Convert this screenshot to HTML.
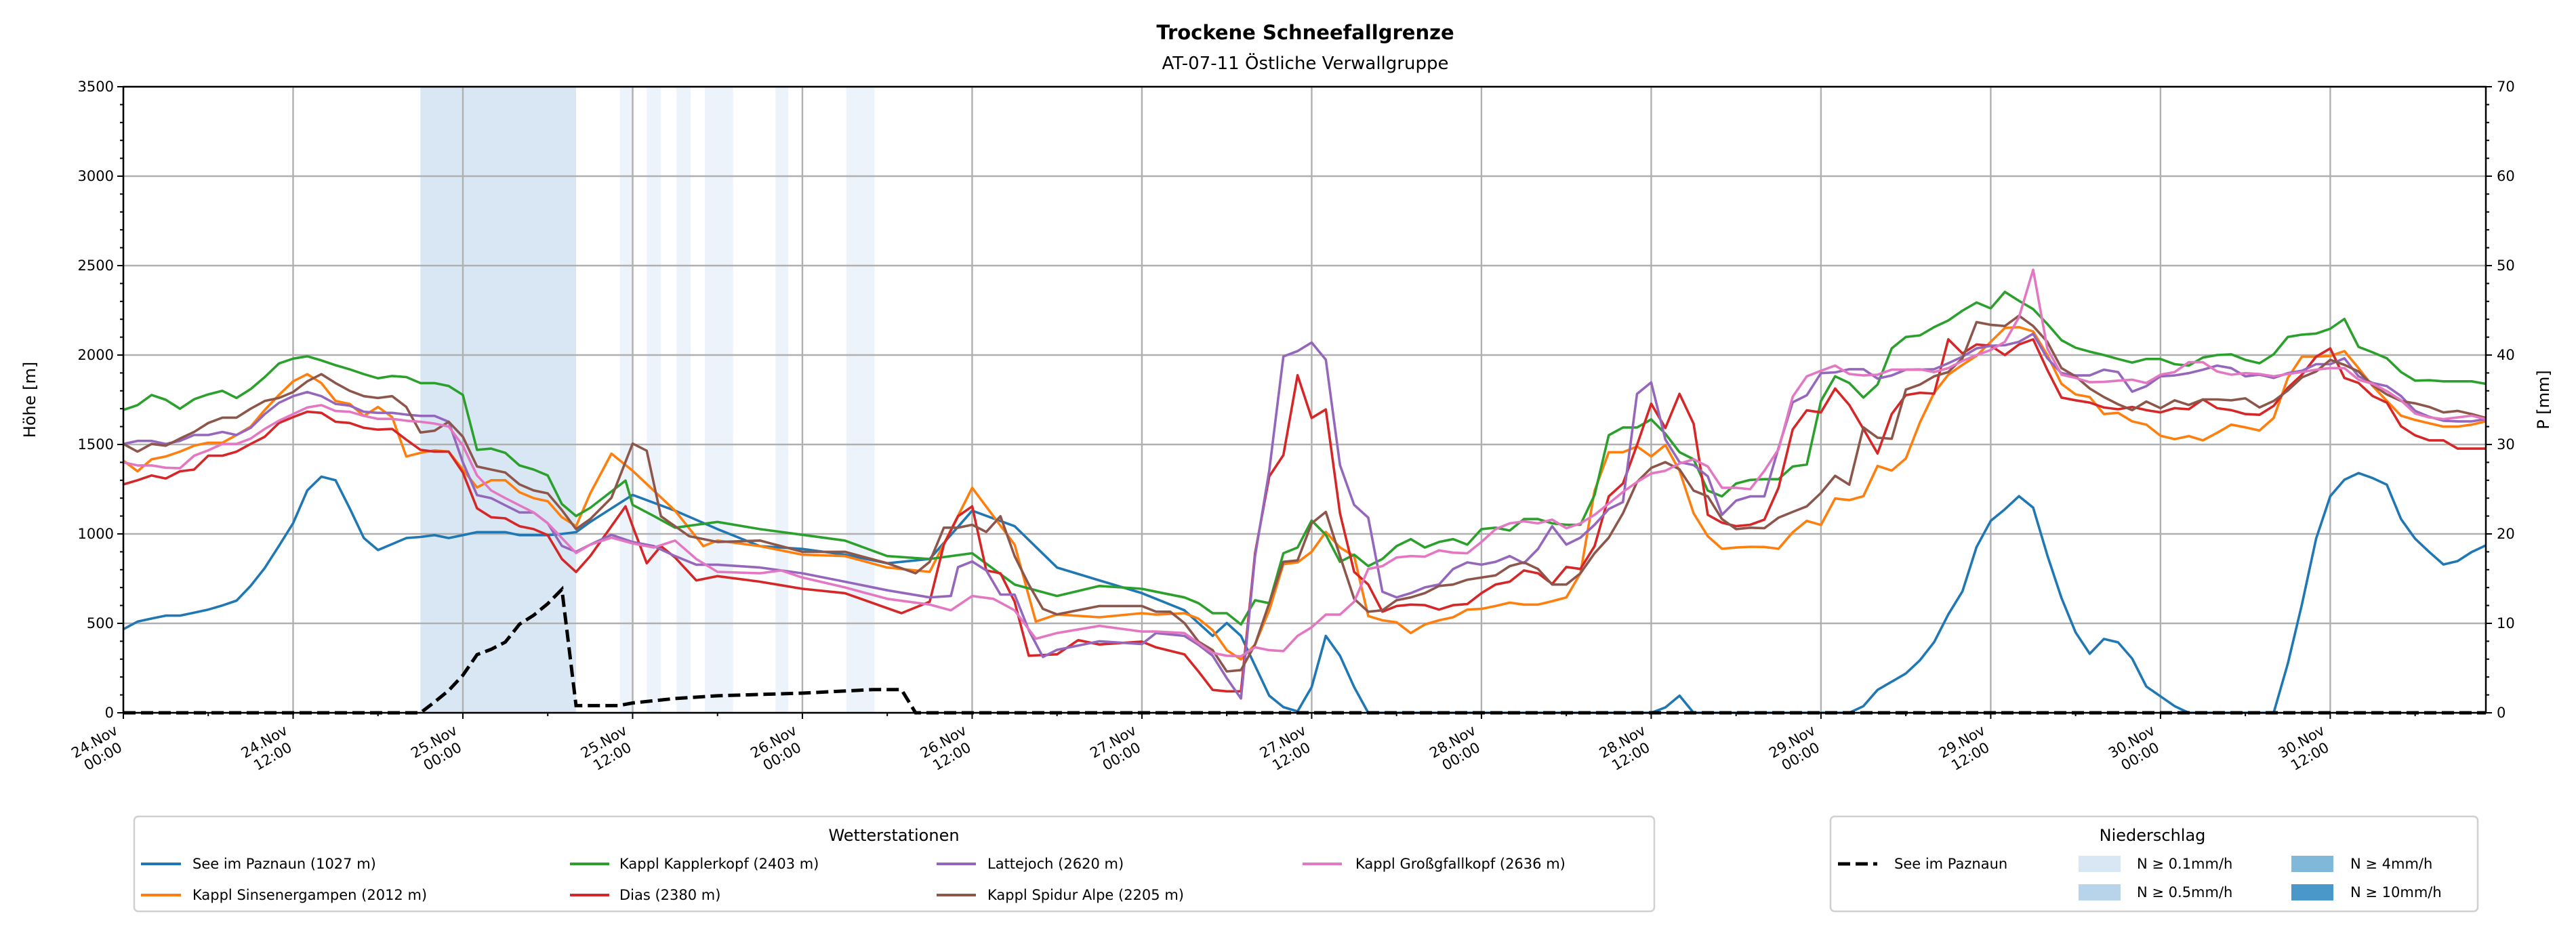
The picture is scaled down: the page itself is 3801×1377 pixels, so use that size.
<!DOCTYPE html>
<html><head><meta charset="utf-8">
<style>
html,body{margin:0;padding:0;background:#fff;}
svg{display:block;font-family:"DejaVu Sans","Liberation Sans",sans-serif;}
</style></head>
<body>
<svg id="chart" width="3801" height="1377" viewBox="0 0 3801 1377" xmlns="http://www.w3.org/2000/svg">
<rect x="0" y="0" width="3801" height="1377" fill="#fff"/>
<text x="1926" y="58" font-size="29" font-weight="bold" text-anchor="middle">Trockene Schneefallgrenze</text>
<text x="1926" y="102" font-size="26" text-anchor="middle">AT-07-11 Östliche Verwallgruppe</text>
<g id="bands"></g>
<g id="grid"></g>
<g id="series"></g>
<g id="axes"></g>
<text x="0" y="0" font-size="24" text-anchor="middle" transform="translate(52,590) rotate(-90)">Höhe [m]</text>
<text x="0" y="0" font-size="24" text-anchor="middle" transform="translate(3761,590) rotate(-90)">P [mm]</text>

<g>
<rect x="198" y="1205" width="2243" height="140" rx="6" fill="#fff" stroke="#d0d0d0" stroke-width="2.5"/>
<text x="1319" y="1241" font-size="24" text-anchor="middle">Wetterstationen</text>
<g font-size="21">
<g><line x1="208" y1="1275" x2="267" y2="1275" stroke="#1f77b4" stroke-width="4"/><text x="284" y="1282">See im Paznaun (1027 m)</text></g>
<g><line x1="208" y1="1321" x2="267" y2="1321" stroke="#ff7f0e" stroke-width="4"/><text x="284" y="1328">Kappl Sinsenergampen (2012 m)</text></g>
<g><line x1="841" y1="1275" x2="899" y2="1275" stroke="#2ca02c" stroke-width="4"/><text x="914" y="1282">Kappl Kapplerkopf (2403 m)</text></g>
<g><line x1="841" y1="1321" x2="899" y2="1321" stroke="#d62728" stroke-width="4"/><text x="914" y="1328">Dias (2380 m)</text></g>
<g><line x1="1382" y1="1275" x2="1440" y2="1275" stroke="#9467bd" stroke-width="4"/><text x="1457" y="1282">Lattejoch (2620 m)</text></g>
<g><line x1="1382" y1="1321" x2="1440" y2="1321" stroke="#8c564b" stroke-width="4"/><text x="1457" y="1328">Kappl Spidur Alpe (2205 m)</text></g>
<g><line x1="1922" y1="1275" x2="1980" y2="1275" stroke="#e377c2" stroke-width="4"/><text x="2000" y="1282">Kappl Großgfallkopf (2636 m)</text></g>
</g></g>

<g>
<rect x="2701" y="1205" width="955" height="140" rx="6" fill="#fff" stroke="#d0d0d0" stroke-width="2.5"/>
<text x="3176" y="1241" font-size="24" text-anchor="middle">Niederschlag</text>
<g font-size="21">
<g><line x1="2712" y1="1275" x2="2770" y2="1275" stroke="#000" stroke-width="5" stroke-dasharray="18,8"/><text x="2795" y="1282">See im Paznaun</text></g>
<g><rect x="3067" y="1263" width="62" height="24" fill="#d9e7f4"/><text x="3153" y="1282">N ≥ 0.1mm/h</text></g>
<g><rect x="3067" y="1305" width="62" height="24" fill="#b8d4ea"/><text x="3153" y="1324">N ≥ 0.5mm/h</text></g>
<g><rect x="3381" y="1263" width="62" height="24" fill="#80b8da"/><text x="3468" y="1282">N ≥ 4mm/h</text></g>
<g><rect x="3381" y="1305" width="62" height="24" fill="#4a98c9"/><text x="3468" y="1324">N ≥ 10mm/h</text></g>
</g></g>
</svg>
<script>
const early=[0,1,2,3,4,5,6,7,8,9,10,11,12,13,14,15,16,17,18,19,20,21,22,23,24,25,26,27,28,29,30,31,32];
const seeHours=early.concat([33,36,39,42,45,48,51,54,57,60,63,66,69,72,75,77,78,79,81,82,83,84,85,86,87,88,108,109,110,111,122,123,124,125,126,127,128,129,130,131,132,133,134,135,136,137,138,139,140,141,142,143,144,145,146,147,148,149,150,151,152,153,154,155,156,157,158,159,160,161,162,163,164,165,166,167]);
const seeVals=[467,510,527,543,543,560,577,600,627,710,810,933,1060,1243,1320,1300,1143,977,910,943,977,983,993,977,993,1010,1010,1010,993,993,993,1000,1010,
1067,1218,1130,1027,932,916,884,836,860,1130,1043,812,740,669,573,430,502,430,96,32,8,144,430,319,144,0,0,30,96,0,0,
37,128,174,220,294,395,550,679,927,1073,1138,1211,1147,881,642,450,330,413,394,303,147,92,37,0,0,0,0,0,0,0,275,606,973,1211,1303,1340,1312,1275,1083,973,899,829,848,899,936];

const h82=[82,83,84,85,86,87,88,89,90,91,92,93,94,95,96,97,98,99,100,101,102,103,104,105,106,107,108,109,110,111,112,113,114,115,116,117,118,119];
const h120=[120,121,122,123,124,125,126,127,128,129,130,131,132,133,134,135,136,137,138,139,140,141,142,143,144,145,146,147,148,149,150,151,152,153,154,155,156,157,158,159,160,161,162,163,164,165,166,167];

const kapplerHours=early.concat([33,35.5,36,37.5,39,42,45,48,51,54,57,60,63,66,69,72,73,75,76,77,78,79,80,81],h82,h120);
const kapplerVals=[1693,1720,1777,1750,1700,1753,1780,1800,1760,1810,1877,1953,1980,1993,1970,1943,1920,1893,1870,1883,1877,1843,1843,1827,1777,1470,1477,1453,1383,1360,1327,1167,1100,
1146,1298,1162,1100,1035,1067,1027,995,963,876,860,892,717,653,709,693,677,645,613,557,557,494,629,613,
892,924,1075,995,844,884,820,860,932,971,924,955,971,940,1027,1035,1019,1083,1083,1059,1051,1051,1218,1552,1595,1595,1640,1560,1457,1417,1242,1210,1282,1302,1306,1306,1377,1388,
1743,1881,1844,1762,1835,2037,2101,2110,2156,2193,2248,2294,2261,2353,2303,2257,2174,2083,2041,2019,2000,1978,1958,1978,1978,1949,1941,1986,2000,2004,1973,1954,2004,2101,2114,2120,2147,2202,2046,2015,1982,1905,1857,1859,1853,1853,1853,1839];

const sinsHours=early.concat([33,34.5,36,39,41,42,45,48,51,54,57,60,63,64.5,66,69,72,73,75,76,77,78,79,80,81],[82,83,84,85,86,87,88,89,90,91,92,93,94,95,96,97,98,99,100,101,102,103,104,105,106,107,108,109,110,111,112,113,114,115,116,117,118,119],h120);
const sinsVals=[1410,1350,1417,1433,1460,1493,1510,1510,1553,1600,1693,1777,1853,1893,1843,1743,1727,1660,1710,1653,1433,1453,1467,1460,1360,1260,1300,1300,1233,1200,1183,1093,1043,
1226,1449,1353,1130,932,963,932,884,876,812,788,1258,940,510,550,534,557,549,557,526,462,350,299,382,573,
831,841,900,1011,924,876,541,517,506,446,494,517,534,577,581,597,616,605,605,624,645,780,1242,1457,1457,1489,1433,1497,1353,1115,987,917,924,928,927,917,1009,1073,
1050,1198,1189,1211,1380,1354,1422,1624,1789,1890,1945,1996,2074,2151,2156,2132,2000,1839,1780,1765,1670,1677,1629,1611,1549,1530,1547,1523,1565,1611,1596,1578,1648,1872,1991,1991,1995,2022,1927,1826,1743,1661,1637,1618,1600,1600,1611,1629];

const h80=[80,81].concat(h82);
const diasHours=early.concat([33,35.5,36,37,38,39,40.5,42,45,48,51,55,57,58,59,60,61,62,63,64,66,67.5,69,72,73,75,76,77,78,79],h80,h120);
const diasVals=[1277,1300,1327,1310,1350,1360,1437,1437,1460,1503,1543,1620,1653,1683,1677,1627,1620,1593,1583,1587,1527,1470,1460,1460,1343,1143,1093,1087,1043,1027,993,860,787,
876,1154,1043,836,932,868,740,764,733,693,669,557,621,940,1099,1154,796,780,621,319,327,406,382,398,366,327,231,128,120,120,
892,1321,1441,1887,1648,1696,1115,788,717,565,597,605,602,577,602,608,669,717,733,796,780,720,815,804,932,1210,1282,1497,1728,1592,1783,1616,1107,1063,1043,1051,1080,1258,1584,1691,
1679,1813,1721,1587,1450,1670,1776,1789,1784,2088,2009,2059,2052,2000,2059,2088,1917,1762,1747,1734,1707,1697,1710,1692,1679,1703,1697,1752,1703,1692,1670,1666,1716,1817,1890,1991,2037,1872,1844,1771,1734,1602,1551,1523,1523,1477,1477,1477];

const latteHours=early.concat([33,34.5,36,37.5,39,40.5,42,45,48,51,54,57,58.5,59,60,61,62,63,64,65,66,69,72,73,75,76,77,78,79],h80,h120);
const latteVals=[1503,1520,1520,1503,1520,1553,1553,1570,1553,1593,1670,1733,1770,1793,1770,1727,1717,1683,1677,1677,1667,1660,1660,1627,1400,1217,1200,1160,1120,1120,1060,933,900,
940,995,955,932,876,828,828,812,780,733,685,645,653,814,846,796,661,661,462,312,352,400,384,446,430,380,319,193,80,
876,1353,1992,2022,2070,1974,1385,1162,1091,677,645,669,701,717,804,841,828,844,876,836,916,1043,940,979,1051,1139,1178,1783,1847,1528,1401,1385,1322,1107,1186,1210,1210,1481,1736,1775,
1899,1903,1921,1921,1868,1886,1918,1918,1921,1954,1991,2037,2052,2055,2074,2119,1982,1899,1886,1886,1918,1905,1795,1826,1881,1886,1899,1918,1941,1927,1881,1890,1872,1899,1912,1949,1949,1982,1881,1844,1826,1771,1688,1655,1633,1629,1629,1642];

const spidurHours=early.concat([33,34.5,36,37,38,40,42,45,48,51,54,56,57,58,59,60,61,62,63,64,65,66,69,72,73,74,75,76,77,78,79],h80,h120);
const spidurVals=[1503,1460,1503,1493,1533,1570,1620,1650,1650,1700,1743,1760,1793,1853,1893,1843,1800,1770,1760,1770,1710,1567,1577,1627,1543,1377,1360,1343,1277,1243,1227,1133,1027,
1083,1202,1505,1465,1099,987,955,963,900,900,836,780,844,1035,1035,1051,1011,1099,876,717,581,550,597,597,565,565,502,398,350,231,239,
382,613,844,852,1059,1123,876,637,565,573,629,645,669,709,717,744,756,768,820,841,804,717,717,780,892,979,1115,1290,1369,1401,1361,1242,1210,1083,1027,1035,1032,1091,1123,1154,
1229,1325,1275,1596,1538,1532,1807,1835,1881,1905,1982,2184,2169,2162,2220,2162,2074,1927,1881,1813,1765,1725,1692,1740,1703,1747,1721,1752,1752,1747,1758,1707,1743,1802,1875,1908,1973,1945,1908,1831,1780,1743,1730,1710,1679,1688,1670,1648];

const grossHours=early.concat([33,34.5,36,37.5,39,40.5,42,45,46.5,48,51,54,57,58.5,60,61.5,63,64.5,66,69,72,73,75,76,77,78,79],h80,h120);
const grossVals=[1400,1383,1383,1370,1367,1437,1467,1503,1503,1533,1587,1633,1670,1707,1720,1687,1683,1660,1643,1643,1633,1627,1617,1600,1493,1327,1243,1200,1160,1120,1060,977,893,
940,979,947,924,963,860,788,780,796,756,701,637,605,573,653,637,573,414,446,486,454,454,446,390,335,319,316,
366,350,345,430,478,549,549,621,804,820,868,876,873,908,895,892,955,1027,1059,1070,1059,1080,1032,1059,1107,1170,1234,1290,1338,1353,1393,1417,1377,1258,1258,1250,1353,1473,1767,1881,
1912,1941,1894,1886,1890,1918,1918,1920,1905,1927,1967,2000,2028,2074,2211,2477,2037,1890,1872,1848,1850,1857,1862,1844,1890,1905,1960,1960,1908,1890,1899,1894,1881,1894,1905,1918,1927,1927,1862,1839,1798,1747,1673,1651,1642,1651,1661,1642];

const precipHours=[0,21,22,23,24,25,26,27,28,29,30,31,32,35,36,39,42,48,53,55,56,167];
const precipVals=[0,0,1.2,2.5,4.2,6.5,7.1,7.9,9.9,10.9,12.2,13.8,0.8,0.8,1.1,1.6,1.9,2.2,2.6,2.6,0,0];

const bandStart=[21,35.1,37,39.1,41.1,46.1,51.1];
const bandEnd=[32,36.1,38,40.1,43.1,47,53.1];
const bandLevel=[1,0,0,0,0,0,0];

const xTickHours=[0,12,24,36,48,60,72,84,96,108,120,132,144,156];
const xTickDays=["24.Nov","24.Nov","25.Nov","25.Nov","26.Nov","26.Nov","27.Nov","27.Nov","28.Nov","28.Nov","29.Nov","29.Nov","30.Nov","30.Nov"];
const xTickTimes=["00:00","12:00","00:00","12:00","00:00","12:00","00:00","12:00","00:00","12:00","00:00","12:00","00:00","12:00"];
const yTicks=[0,500,1000,1500,2000,2500,3000,3500];
const y2Ticks=[0,10,20,30,40,50,60,70];

const NS="http://www.w3.org/2000/svg";
const X0=182,X1=3668,Y0=1052,Y1=128,HMAX=167,YMAX=3500,PMAX=70;
function xs(h){return X0+h*(X1-X0)/HMAX;}
function ys(m){return Y0-m*(Y0-Y1)/YMAX;}
function yp(p){return Y0-p*(Y0-Y1)/PMAX;}
function mk(tag,attrs,parent){const e=document.createElementNS(NS,tag);for(const k in attrs)e.setAttribute(k,attrs[k]);parent.appendChild(e);return e;}

const bandColors=["#edf3fb","#d8e7f3"];
const gB=document.getElementById('bands');
bandStart.forEach((s,i)=>{
  const r=mk('rect',{x:xs(s),y:Y1,width:xs(bandEnd[i])-xs(s),height:Y0-Y1,fill:bandColors[bandLevel[i]]},gB);
  
  
});

const gG=document.getElementById('grid');
xTickHours.forEach(h=>{const l=mk('line',{x1:xs(h),x2:xs(h),y1:Y1,y2:Y0,stroke:'#b0b0b0','stroke-width':2.4},gG);
  
  });
yTicks.forEach(v=>{const l=mk('line',{x1:X0,x2:X1,y1:ys(v),y2:ys(v),stroke:'#b0b0b0','stroke-width':2.4},gG);
  
  });

const gS=document.getElementById('series');
function line(hours,vals,color,name,extra){
  let d='';
  hours.forEach((h,i)=>{d+=(i?'L':'M')+xs(h).toFixed(1)+','+ys(vals[i]).toFixed(1);});
  const p=mk('path',Object.assign({d:d,fill:'none',stroke:color,'stroke-width':3.6,'stroke-linejoin':'round'},extra||{}),gS);
  
  
}
line(seeHours,seeVals,'#1f77b4','series-see-im-paznaun');
line(sinsHours,sinsVals,'#ff7f0e','series-kappl-sinsenergampen');
line(kapplerHours,kapplerVals,'#2ca02c','series-kappl-kapplerkopf');
line(diasHours,diasVals,'#d62728','series-dias');
line(latteHours,latteVals,'#9467bd','series-lattejoch');
line(spidurHours,spidurVals,'#8c564b','series-kappl-spidur-alpe');
line(grossHours,grossVals,'#e377c2','series-kappl-grossgfallkopf');
(function(){
  let d='';
  precipHours.forEach((h,i)=>{d+=(i?'L':'M')+xs(h).toFixed(1)+','+yp(precipVals[i]).toFixed(1);});
  const p=mk('path',{d:d,fill:'none',stroke:'#000','stroke-width':5,'stroke-dasharray':'18,8'},gS);
  
  
})();

const gA=document.getElementById('axes');
mk('rect',{x:X0,y:Y1,width:X1-X0,height:Y0-Y1,fill:'none',stroke:'#000','stroke-width':2.5},gA);
for(let h=0;h<=HMAX;h+=6){const major=h%12===0;mk('line',{x1:xs(h),x2:xs(h),y1:Y0,y2:Y0+(major?9:5),stroke:'#000','stroke-width':2},gA);}
xTickHours.forEach((h,i)=>{
  const t=mk('text',{transform:'translate('+(xs(h)-36)+',1106) rotate(-30)','font-size':21,'text-anchor':'middle'},gA);
  
  
  mk('tspan',{x:0,y:-6},t).textContent=xTickDays[i];
  mk('tspan',{x:0,y:19},t).textContent=xTickTimes[i];
});
for(let v=0;v<=YMAX;v+=100){const major=v%500===0;mk('line',{x1:X0,x2:X0-(major?9:5),y1:ys(v),y2:ys(v),stroke:'#000','stroke-width':2},gA);}
yTicks.forEach(v=>{const t=mk('text',{x:X0-14,y:ys(v)+7,'font-size':21,'text-anchor':'end'},gA);t.textContent=v;
  
  });
for(let p=0;p<=PMAX;p+=2){const major=p%10===0;mk('line',{x1:X1,x2:X1+(major?9:5),y1:yp(p),y2:yp(p),stroke:'#000','stroke-width':2},gA);}
y2Ticks.forEach(p=>{const t=mk('text',{x:X1+16,y:yp(p)+7,'font-size':21,'text-anchor':'start'},gA);t.textContent=p;
  
  });
</script>
</body></html>
